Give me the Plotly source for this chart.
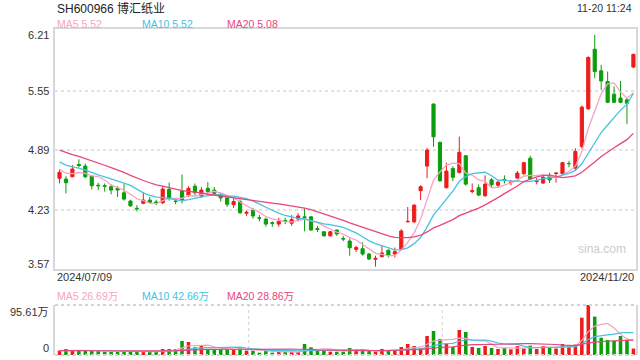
import plotly.graph_objects as go

# ---------------- data ----------------
idx = list(range(90))
opens = [4.577, 4.569, 4.594, 4.73, 4.713, 4.602, 4.50, 4.495, 4.484, 4.466,
         4.417, 4.325, 4.245, 4.30, 4.336, 4.315, 4.306, 4.455, 4.325, 4.436,
         4.392, 4.49, 4.38, 4.466, 4.447, 4.40, 4.36, 4.285, 4.32, 4.19,
         4.225, 4.14, 4.125, 4.085, 4.07, 4.11, 4.08, 4.126, 4.15, 4.15,
         4.02, 3.985, 3.94, 4.004, 3.91, 3.882, 3.79, 3.797, 3.738, 3.68,
         3.71, 3.78, 3.738, 3.79, 4.095, 4.096, 4.44, 4.713, 5.40, 4.975,
         4.473, 4.687, 4.643, 4.827, 4.43, 4.473, 4.385, 4.56, 4.50, 4.565,
         4.53, 4.58, 4.627, 4.80, 4.54, 4.525, 4.60, 4.63, 4.627, 4.74,
         4.69, 4.93, 5.347, 6.008, 5.768, 5.65, 5.51, 5.466, 5.447, 5.81]
highs = [4.676, 4.602, 4.724, 4.787, 4.74, 4.61, 4.528, 4.52, 4.51, 4.49,
         4.513, 4.34, 4.28, 4.42, 4.37, 4.34, 4.49, 4.53, 4.35, 4.62,
         4.49, 4.52, 4.48, 4.536, 4.48, 4.42, 4.37, 4.37, 4.34, 4.22,
         4.25, 4.17, 4.14, 4.10, 4.14, 4.14, 4.17, 4.19, 4.24, 4.16,
         4.05, 3.99, 3.99, 4.01, 3.94, 3.91, 3.83, 3.868, 3.75, 3.72,
         3.83, 3.79, 3.81, 4.015, 4.26, 4.29, 4.50, 4.915, 5.407, 4.985,
         4.75, 4.71, 5.04, 4.835, 4.52, 4.51, 4.61, 4.58, 4.55, 4.61,
         4.56, 4.66, 4.76, 4.827, 4.58, 4.62, 4.64, 4.645, 4.76, 4.77,
         4.91, 5.385, 5.928, 6.167, 5.835, 5.76, 5.595, 5.657, 5.466, 5.96]
lows = [4.521, 4.41, 4.59, 4.698, 4.58, 4.455, 4.447, 4.43, 4.40, 4.37,
        4.33, 4.26, 4.21, 4.29, 4.30, 4.28, 4.29, 4.33, 4.29, 4.30,
        4.37, 4.39, 4.36, 4.41, 4.40, 4.32, 4.26, 4.25, 4.18, 4.16,
        4.13, 4.10, 4.04, 4.04, 4.04, 4.07, 4.05, 4.10, 3.99, 4.00,
        3.98, 3.93, 3.93, 3.94, 3.88, 3.72, 3.76, 3.72, 3.67, 3.598,
        3.70, 3.70, 3.70, 3.785, 4.09, 4.08, 4.336, 4.577, 4.926, 4.54,
        4.466, 4.545, 4.63, 4.495, 4.41, 4.38, 4.37, 4.47, 4.47, 4.52,
        4.50, 4.57, 4.62, 4.56, 4.51, 4.515, 4.525, 4.53, 4.62, 4.70,
        4.66, 4.904, 5.336, 5.687, 5.558, 5.41, 5.41, 5.41, 5.178, 5.80]
closes = [4.643, 4.528, 4.68, 4.72, 4.594, 4.495, 4.495, 4.49, 4.447, 4.447,
          4.347, 4.273, 4.24, 4.336, 4.31, 4.31, 4.458, 4.355, 4.32, 4.336,
          4.466, 4.417, 4.447, 4.428, 4.41, 4.36, 4.29, 4.32, 4.196, 4.20,
          4.16, 4.135, 4.07, 4.08, 4.10, 4.10, 4.12, 4.16, 4.14, 4.004,
          4.01, 3.94, 3.985, 3.96, 3.905, 3.808, 3.81, 3.738, 3.683, 3.69,
          3.75, 3.727, 3.764, 3.993, 4.10, 4.28, 4.484, 4.89, 5.037, 4.55,
          4.657, 4.588, 4.865, 4.513, 4.44, 4.392, 4.513, 4.506, 4.535, 4.56,
          4.535, 4.635, 4.75, 4.572, 4.545, 4.588, 4.56, 4.635, 4.75, 4.74,
          4.875, 5.366, 5.917, 5.76, 5.657, 5.42, 5.42, 5.42, 5.41, 5.95]
# volume, in 万
volumes = [8.3, 11.5, 8.3, 8.3, 8.3, 8.3, 8.3, 6.4, 6.4, 6.4,
           6.4, 6.4, 6.4, 6.4, 6.4, 6.4, 11.5, 11.5, 11.5, 26.8,
           24.9, 14.7, 17.2, 10.9, 10.9, 10.9, 10.9, 10.9, 12.7, 8.3,
           8.3, 4.5, 8.3, 4.5, 5.7, 5.7, 5.7, 5.7, 21.0, 14.7,
           8.0, 8.3, 6.4, 6.4, 6.4, 13.4, 8.3, 8.3, 8.3, 6.4,
           11.5, 8.3, 8.3, 15.3, 21.0, 17.2, 12.7, 36.3, 45.9, 30.6,
           21.0, 15.3, 47.8, 44.0, 15.3, 13.4, 17.2, 13.4, 11.5, 13.4,
           10.9, 17.0, 12.7, 18.0, 11.5, 17.2, 13.4, 12.5, 21.0, 16.0,
           20.0, 71.4, 95.61, 73.4, 33.0, 28.7, 27.4, 36.3, 28.7, 12.3]
# sessions before the window (estimated from where the MA lines start)
prior_closes = [5.12, 5.10, 5.08, 5.05, 5.03, 5.00, 4.98, 4.96, 4.95, 4.93,
                4.90, 4.88, 4.85, 4.81, 4.78, 4.74, 4.70, 4.66, 4.637]
prior_volumes = [9.0, 8.5, 7.8, 8.2, 9.5, 8.0, 7.5, 8.8, 9.2, 8.1,
                 7.9, 8.4, 8.6, 7.7, 9.1, 8.3, 8.0, 7.6, 8.7]

price_ticks = [6.21, 5.55, 4.89, 4.23, 3.57]
price_tick_labels = ["6.21", "5.55", "4.89", "4.23", "3.57"]
vol_ticks = [95.61, 0]
vol_tick_labels = ["95.61万", "0"]
date_labels = ["2024/07/09", "2024/11/20"]
title_text = "SH600966 博汇纸业"
time_text = "11-20 11:24"
ma_names = ["MA5", "MA10", "MA20"]
ma_price_text = ["5.52", "5.52", "5.08"]
ma_vol_text = ["26.69万", "42.66万", "28.86万"]

# ---------------- styles ----------------
UP = "#ef1b1b"
DOWN = "#0c9d0c"
MA_COLORS = ["#f7a3c2", "#45c3e1", "#e8467c"]
FONT = "Liberation Sans, Arial, Noto Sans CJK SC, sans-serif"
H = 360.0


def ma(series, prior, n):
    full = prior + series
    off = len(prior)
    out = []
    for i in range(len(series)):
        j = off + i
        w = full[max(0, j - n + 1): j + 1]
        out.append(sum(w) / len(w))
    return out


def py(pix):
    return (H - pix) / H


fig = go.Figure()
fig.add_trace(go.Candlestick(
    x=idx, open=opens, high=highs, low=lows, close=closes,
    increasing=dict(line=dict(color=UP, width=1), fillcolor=UP),
    decreasing=dict(line=dict(color=DOWN, width=1), fillcolor=DOWN),
    whiskerwidth=0, xaxis="x", yaxis="y", hoverinfo="skip"))
for n, c in zip([5, 10, 20], MA_COLORS):
    fig.add_trace(go.Scatter(x=idx, y=ma(closes, prior_closes, n), mode="lines",
                             line=dict(color=c, width=1.3), xaxis="x", yaxis="y",
                             hoverinfo="skip"))

bar_colors = [UP if c >= o else DOWN for o, c in zip(opens, closes)]
fig.add_trace(go.Bar(x=idx, y=volumes, marker=dict(color=bar_colors, line=dict(width=0)),
                     width=0.55, xaxis="x2", yaxis="y2", hoverinfo="skip"))
for n, c in zip([5, 10, 20], MA_COLORS):
    fig.add_trace(go.Scatter(x=idx, y=ma(volumes, prior_volumes, n), mode="lines",
                             line=dict(color=c, width=1.2), xaxis="x2", yaxis="y2",
                             hoverinfo="skip"))

xr = [-0.7, 89.4]
main_dom = [py(269.2), py(29)]
vol_dom = [py(355), py(305)]

fig.update_layout(
    width=640, height=360, margin=dict(l=55, r=4, t=0, b=0),
    paper_bgcolor="white", plot_bgcolor="white", showlegend=False,
    hovermode=False, font=dict(family=FONT, size=11, color="#333333"),
    xaxis=dict(domain=[0, 1], range=xr, showgrid=False, zeroline=False,
               showticklabels=False, ticks="", showline=True, mirror=True,
               linecolor="#d8d8d8", linewidth=2, rangeslider=dict(visible=False),
               anchor="y"),
    yaxis=dict(domain=main_dom, range=[3.57, 6.232], tickvals=[5.55, 4.89, 4.23],
               showticklabels=False, ticks="", showgrid=True, gridcolor="#e2e2e2",
               griddash="dot", gridwidth=2, zeroline=False, showline=True,
               mirror=True, linecolor="#d8d8d8", linewidth=2, anchor="x"),
    xaxis2=dict(domain=[0, 1], range=xr, matches="x", showgrid=False, zeroline=False,
                showticklabels=False, ticks="", showline=False, anchor="y2"),
    yaxis2=dict(domain=vol_dom, range=[0, 95.61], showgrid=False, zeroline=False,
                showticklabels=False, ticks="", showline=True, mirror=True,
                linecolor="#d8d8d8", linewidth=2, anchor="x2"),
    bargap=0.45,
)

# volume panel dotted lines: top, bottom and vertical thirds
dot = dict(color="#d4d4d4", width=2, dash="dot")
for yy in [0, 1]:
    fig.add_shape(type="line", xref="paper", yref="y2 domain", x0=0, x1=1, y0=yy, y1=yy,
                  line=dot, layer="above")
for xx in [1 / 3, 2 / 3]:
    fig.add_shape(type="line", xref="paper", yref="y2 domain", x0=xx, x1=xx, y0=0, y1=1,
                  line=dict(color="#d4d4d4", width=1, dash="dot"), layer="below")

ann = []
shifts = [-4, 0, 0, 0, 5]
for v, t, s in zip(price_ticks, price_tick_labels, shifts):
    ann.append(dict(x=0, xref="paper", y=v, yref="y", text=t, showarrow=False,
                    xanchor="right", yanchor="middle", xshift=-4, yshift=s,
                    font=dict(size=11, color="#333333")))
for v, t, s in zip(vol_ticks, vol_tick_labels, [-7, 7]):
    ann.append(dict(x=0, xref="paper", y=v, yref="y2", text=t, showarrow=False,
                    xanchor="right", yanchor="middle", xshift=-4, yshift=s,
                    font=dict(size=11, color="#333333")))

ann.append(dict(x=0, xref="paper", y=py(8), yref="paper", text=title_text, showarrow=False,
                xanchor="left", yanchor="middle", font=dict(size=12, color="#222222")))
ann.append(dict(x=(634 - 55) / 581, xref="paper", y=py(8), yref="paper", text=time_text,
                showarrow=False, xanchor="right", yanchor="middle",
                font=dict(size=10.5, color="#333333")))
leg_x = [55, 140, 225]
for lx, nm, txt, c in zip(leg_x, ma_names, ma_price_text, MA_COLORS):
    ann.append(dict(x=(lx - 55) / 581, xref="paper", y=py(24), yref="paper",
                    text=f"{nm} {txt}", showarrow=False, xanchor="left", yanchor="middle",
                    font=dict(size=10.5, color=c)))
for lx, nm, txt, c in zip(leg_x, ma_names, ma_vol_text, MA_COLORS):
    ann.append(dict(x=(lx - 55) / 581, xref="paper", y=py(295.5), yref="paper",
                    text=f"{nm} {txt}", showarrow=False, xanchor="left", yanchor="middle",
                    font=dict(size=10.5, color=c)))
ann.append(dict(x=0, xref="paper", y=py(277), yref="paper", text=date_labels[0],
                showarrow=False, xanchor="left", yanchor="middle",
                font=dict(size=11, color="#333333")))
ann.append(dict(x=1, xref="paper", y=py(277), yref="paper", text=date_labels[1],
                showarrow=False, xanchor="right", yanchor="middle",
                font=dict(size=11, color="#333333")))
ann.append(dict(x=(602 - 55) / 581, xref="paper", y=py(249), yref="paper", text="sina.com",
                showarrow=False, xanchor="center", yanchor="middle",
                font=dict(size=12, color="#cccccc")))
fig.update_layout(annotations=ann)

fig.write_html("out.html",
               config={"displayModeBar": False, "staticPlot": True},
               post_script="document.body.style.margin='0';"
                           "document.body.style.overflow='hidden';")
